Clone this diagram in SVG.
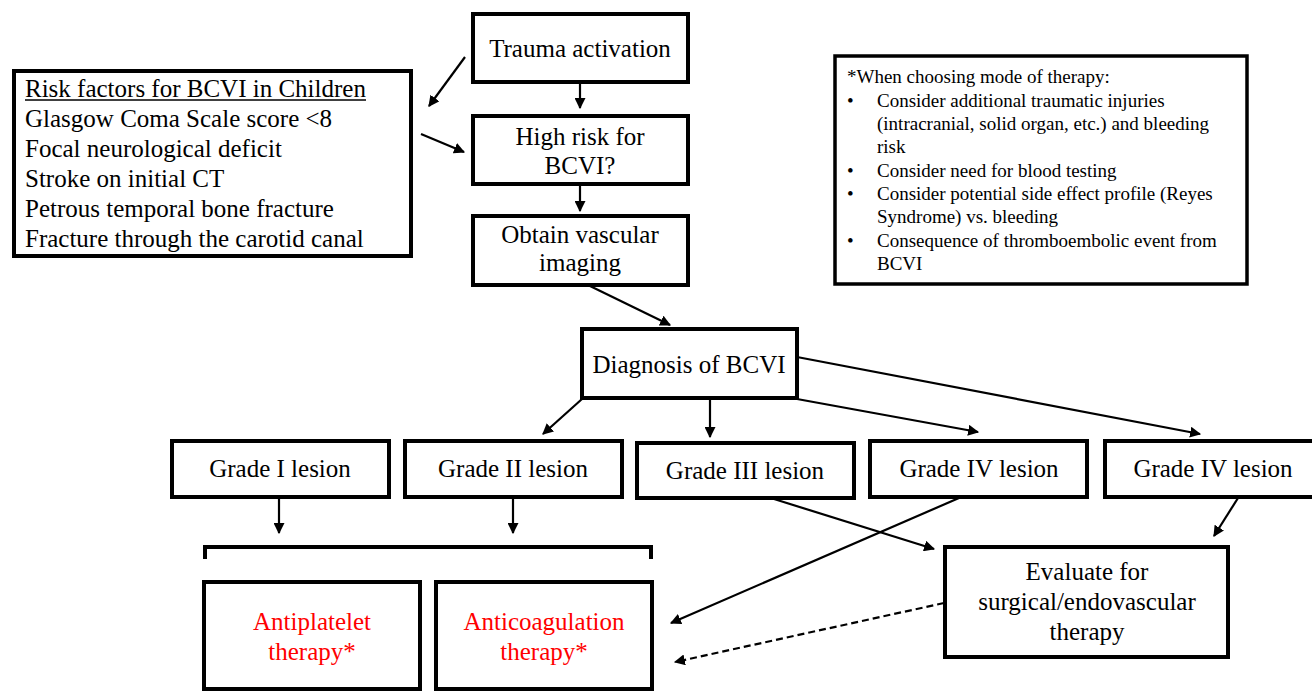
<svg xmlns="http://www.w3.org/2000/svg" width="1312" height="692" viewBox="0 0 1312 692">
<style>
.box{fill:#fff;stroke:#000;stroke-width:4}
.t{font-family:"Liberation Serif","Times New Roman",serif;font-size:25px;fill:#000}
.c{text-anchor:middle}
.red{fill:#ff0000}
.n{font-family:"Liberation Serif","Times New Roman",serif;font-size:19px;fill:#000}
.ln{stroke:#000;stroke-width:2.2;fill:none}
</style>
<defs>
<marker id="ah" viewBox="0 0 10 10" refX="9" refY="5" markerWidth="5" markerHeight="5" orient="auto" markerUnits="strokeWidth">
<path d="M0,0 L10,5 L0,10 z" fill="#000"/>
</marker>
</defs>
<rect width="1312" height="692" fill="#fff"/>

<g id="risk">
<rect class="box" x="14" y="71" width="397" height="185"/>
<text class="t" x="25" y="97">Risk factors for BCVI in Children</text>
<line x1="25" y1="100" x2="366" y2="100" stroke="#000" stroke-width="1.5"/>
<text class="t" x="25" y="127">Glasgow Coma Scale score &lt;8</text>
<text class="t" x="25" y="157">Focal neurological deficit</text>
<text class="t" x="25" y="187">Stroke on initial CT</text>
<text class="t" x="25" y="217">Petrous temporal bone fracture</text>
<text class="t" x="25" y="247">Fracture through the carotid canal</text>
</g>

<g id="trauma">
<rect class="box" x="473" y="14" width="215" height="68"/>
<text class="t c" x="580" y="57">Trauma activation</text>
</g>

<g id="highrisk">
<rect class="box" x="473" y="116" width="215" height="68"/>
<text class="t c" x="580" y="145">High risk for</text>
<text class="t c" x="580" y="174">BCVI?</text>
</g>

<g id="imaging">
<rect class="box" x="473" y="216" width="215" height="69"/>
<text class="t c" x="580" y="243">Obtain vascular</text>
<text class="t c" x="580" y="271">imaging</text>
</g>

<g id="note">
<rect class="box" x="835" y="56" width="412" height="228" style="stroke-width:3.5"/>
<text class="n" x="847" y="83">*When choosing mode of therapy:</text>
<text class="n" x="847" y="107">•</text>
<text class="n" x="877" y="107">Consider additional traumatic injuries</text>
<text class="n" x="877" y="130">(intracranial, solid organ, etc.) and bleeding</text>
<text class="n" x="877" y="153">risk</text>
<text class="n" x="847" y="177">•</text>
<text class="n" x="877" y="177">Consider need for blood testing</text>
<text class="n" x="847" y="200">•</text>
<text class="n" x="877" y="200">Consider potential side effect profile (Reyes</text>
<text class="n" x="877" y="223">Syndrome) vs. bleeding</text>
<text class="n" x="847" y="247">•</text>
<text class="n" x="877" y="247">Consequence of thromboembolic event from</text>
<text class="n" x="877" y="270">BCVI</text>
</g>

<g id="diagnosis">
<rect class="box" x="582" y="329" width="215" height="69"/>
<text class="t c" x="689" y="373">Diagnosis of BCVI</text>
</g>

<g id="grade1">
<rect class="box" x="172" y="441" width="217" height="56"/>
<text class="t c" x="280" y="477">Grade I lesion</text>
</g>
<g id="grade2">
<rect class="box" x="405" y="441" width="217" height="56"/>
<text class="t c" x="513" y="477">Grade II lesion</text>
</g>
<g id="grade3">
<rect class="box" x="637" y="443" width="217" height="55"/>
<text class="t c" x="745" y="479">Grade III lesion</text>
</g>
<g id="grade4a">
<rect class="box" x="870" y="441" width="217" height="56"/>
<text class="t c" x="979" y="477">Grade IV lesion</text>
</g>
<g id="grade4b">
<rect class="box" x="1105" y="441" width="212" height="56"/>
<text class="t c" x="1213" y="477">Grade IV lesion</text>
</g>

<g id="bracket">
<polyline points="205,559 205,547 651,547 651,559" fill="none" stroke="#000" stroke-width="4"/>
</g>

<g id="antiplatelet">
<rect class="box" x="204" y="582" width="216" height="107"/>
<text class="t c red" x="312" y="630">Antiplatelet</text>
<text class="t c red" x="312" y="660">therapy*</text>
</g>
<g id="anticoag">
<rect class="box" x="436" y="582" width="216" height="107"/>
<text class="t c red" x="544" y="630">Anticoagulation</text>
<text class="t c red" x="544" y="660">therapy*</text>
</g>

<g id="evaluate">
<rect class="box" x="945" y="547" width="283" height="110"/>
<text class="t c" x="1087" y="580">Evaluate for</text>
<text class="t c" x="1087" y="610">surgical/endovascular</text>
<text class="t c" x="1087" y="640">therapy</text>
</g>

<g id="connectors">
<line class="ln" x1="465" y1="57" x2="429" y2="106" marker-end="url(#ah)"/>
<line class="ln" x1="421" y1="134" x2="464" y2="152" marker-end="url(#ah)"/>
<line class="ln" x1="580" y1="84" x2="580" y2="108" marker-end="url(#ah)"/>
<line class="ln" x1="580" y1="186" x2="580" y2="211" marker-end="url(#ah)"/>
<line class="ln" x1="590" y1="286" x2="670" y2="325" marker-end="url(#ah)"/>
<line class="ln" x1="582" y1="399" x2="543" y2="434" marker-end="url(#ah)"/>
<line class="ln" x1="710" y1="400" x2="710" y2="437" marker-end="url(#ah)"/>
<line class="ln" x1="797" y1="399" x2="978" y2="432" marker-end="url(#ah)"/>
<line class="ln" x1="797" y1="357" x2="1200" y2="434" marker-end="url(#ah)"/>
<line class="ln" x1="279" y1="498" x2="279" y2="533" marker-end="url(#ah)"/>
<line class="ln" x1="513" y1="498" x2="513" y2="533" marker-end="url(#ah)"/>
<line class="ln" x1="774" y1="499" x2="934" y2="549" marker-end="url(#ah)"/>
<line class="ln" x1="959" y1="498" x2="671" y2="623" marker-end="url(#ah)"/>
<line class="ln" x1="1238" y1="498" x2="1214" y2="536" marker-end="url(#ah)"/>
<line class="ln" x1="944" y1="603" x2="675" y2="662" stroke-dasharray="7,4" marker-end="url(#ah)"/>
</g>
</svg>
